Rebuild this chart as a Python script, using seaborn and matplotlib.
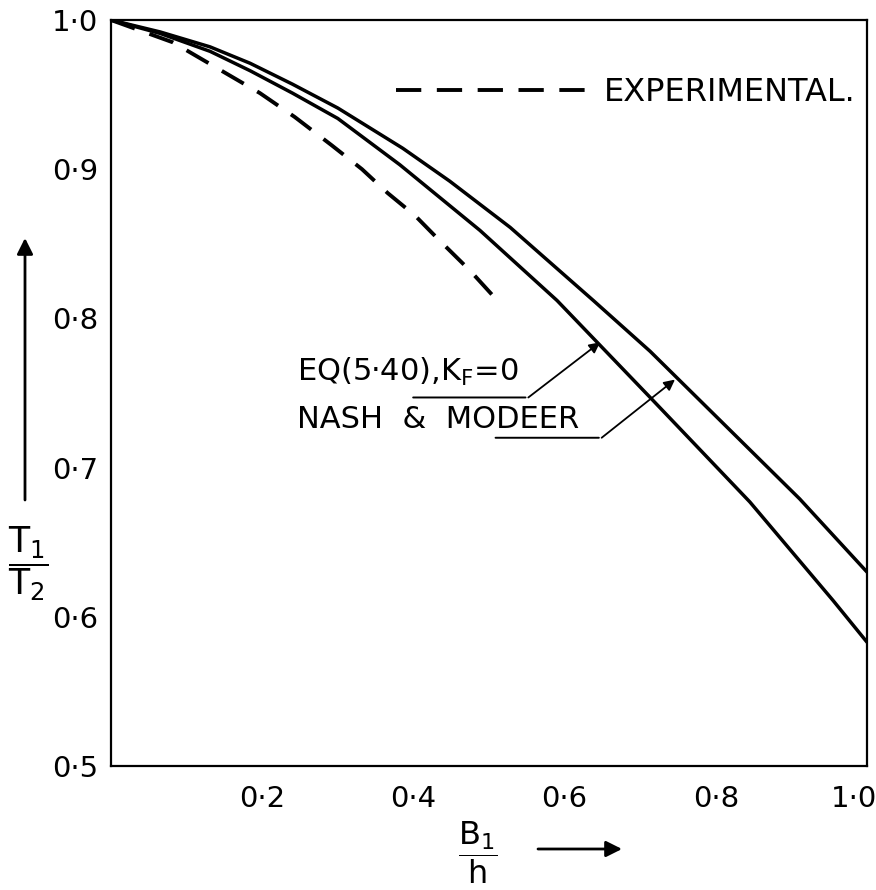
import numpy as np
import pandas as pd
import matplotlib
matplotlib.use("Agg")
import matplotlib.pyplot as plt
import matplotlib.transforms as mtransforms
import seaborn as sns

# ---- data ----
x_upper = [0.0, 0.065, 0.131, 0.184, 0.24, 0.30, 0.386, 0.448, 0.528, 0.638, 0.713, 0.779, 0.911, 1.0]
y_upper = [1.0, 0.992, 0.982, 0.971, 0.957, 0.941, 0.914, 0.892, 0.861, 0.812, 0.778, 0.745, 0.679, 0.630]

x_lower = [0.0, 0.065, 0.131, 0.184, 0.24, 0.30, 0.382, 0.488, 0.590, 0.717, 0.845, 0.955, 1.0]
y_lower = [1.0, 0.991, 0.979, 0.966, 0.951, 0.934, 0.903, 0.859, 0.812, 0.745, 0.677, 0.611, 0.583]

x_exp = [0.0, 0.082, 0.153, 0.197, 0.243, 0.292, 0.332, 0.366, 0.402, 0.433, 0.475, 0.511]
y_exp = [1.0, 0.985, 0.964, 0.951, 0.935, 0.916, 0.900, 0.884, 0.869, 0.853, 0.832, 0.812]

x_ticks = [0.2, 0.4, 0.6, 0.8, 1.0]
x_tick_labels = ["0·2", "0·4", "0·6", "0·8", "1·0"]
y_ticks = [0.5, 0.6, 0.7, 0.8, 0.9, 1.0]
y_tick_labels = ["0·5", "0·6", "0·7", "0·8", "0·9", "1·0"]

legend_label = "EXPERIMENTAL."
label_eq = r"EQ(5·40),K$_\mathrm{F}$=0"
label_nash = "NASH  &  MODEER"

sns.set_style("white")
plt.rcParams["font.family"] = ["DejaVu Sans"]
plt.rcParams["mathtext.fontset"] = "dejavusans"
for k in ["text.color", "axes.labelcolor", "xtick.color", "ytick.color"]:
    plt.rcParams[k] = "black"

W, H = 876, 890
fig = plt.figure(figsize=(W / 100, H / 100), dpi=100)
ax = fig.add_axes([111 / W, 1 - 766 / H, 756 / W, 746 / H])

upper = pd.DataFrame({"x": x_upper, "y": y_upper})
lower = pd.DataFrame({"x": x_lower, "y": y_lower})
exp = pd.DataFrame({"x": x_exp, "y": y_exp})

sns.lineplot(data=upper, x="x", y="y", ax=ax, color="black", lw=2.5,
             sort=False, estimator=None, legend=False)
sns.lineplot(data=lower, x="x", y="y", ax=ax, color="black", lw=2.5,
             sort=False, estimator=None, legend=False)
sns.lineplot(data=exp, x="x", y="y", ax=ax, color="black", lw=2.8,
             sort=False, estimator=None, linestyle=(0, (6.5, 4)),
             label=legend_label)

ax.set_xlim(0, 1.0)
ax.set_ylim(0.5, 1.0)
ax.set_xticks(x_ticks)
ax.set_xticklabels(x_tick_labels)
ax.set_yticks(y_ticks)
ax.set_yticklabels(y_tick_labels)
ax.set_xlabel("")
ax.set_ylabel("")
ax.tick_params(axis="y", direction="out", length=7, width=1.5,
               labelsize=21, pad=2, colors="black")
ax.tick_params(axis="x", direction="in", length=6, width=1.5,
               labelsize=21, pad=14, colors="black")
last = ax.get_xticklabels()[-1]
last.set_ha("right")
last.set_transform(last.get_transform() +
                   mtransforms.ScaledTranslation(10 / 100, 0, fig.dpi_scale_trans))
for s in ax.spines.values():
    s.set_color("black")
    s.set_linewidth(1.6)
    s.set_visible(True)

leg = ax.legend(loc="center right", bbox_to_anchor=(0.985, 0.903),
                frameon=False, fontsize=23, handlelength=6.4,
                handletextpad=0.12, borderpad=0, borderaxespad=0)
for t in leg.get_texts():
    t.set_color("black")

# annotations
ax.text(0.246, 0.764, label_eq, fontsize=22, ha="left", va="center")
ax.text(0.246, 0.732, label_nash, fontsize=22, ha="left", va="center")
ax.annotate("", xy=(0.552, 0.747), xytext=(0.396, 0.747),
            arrowprops=dict(arrowstyle="-", color="black", lw=1.4))
ax.annotate("", xy=(0.647, 0.784), xytext=(0.552, 0.747),
            arrowprops=dict(arrowstyle="-|>", color="black", lw=1.3,
                            mutation_scale=16, shrinkA=0, shrinkB=0))
ax.annotate("", xy=(0.649, 0.720), xytext=(0.505, 0.720),
            arrowprops=dict(arrowstyle="-", color="black", lw=1.4))
ax.annotate("", xy=(0.746, 0.759), xytext=(0.649, 0.720),
            arrowprops=dict(arrowstyle="-|>", color="black", lw=1.3,
                            mutation_scale=16, shrinkA=0, shrinkB=0))

# axis labels as fractions with arrows
fig.text(28 / W, 1 - 564 / H, r"$\dfrac{\mathrm{T}_1}{\mathrm{T}_2}$",
         fontsize=25, ha="center", va="center")
ax.annotate("", xy=(25, H - 238), xytext=(25, H - 500),
            xycoords="figure pixels", textcoords="figure pixels",
            arrowprops=dict(arrowstyle="-|>", color="black", lw=2,
                            mutation_scale=24, shrinkA=0, shrinkB=0))
fig.text(478 / W, 1 - 853 / H, r"$\dfrac{\mathrm{B}_1}{\mathrm{h}}$",
         fontsize=23, ha="center", va="center")
ax.annotate("", xy=(622, H - 849), xytext=(538, H - 849),
            xycoords="figure pixels", textcoords="figure pixels",
            arrowprops=dict(arrowstyle="-|>", color="black", lw=2,
                            mutation_scale=24, shrinkA=0, shrinkB=0))

fig.savefig("out.png", dpi=100)
